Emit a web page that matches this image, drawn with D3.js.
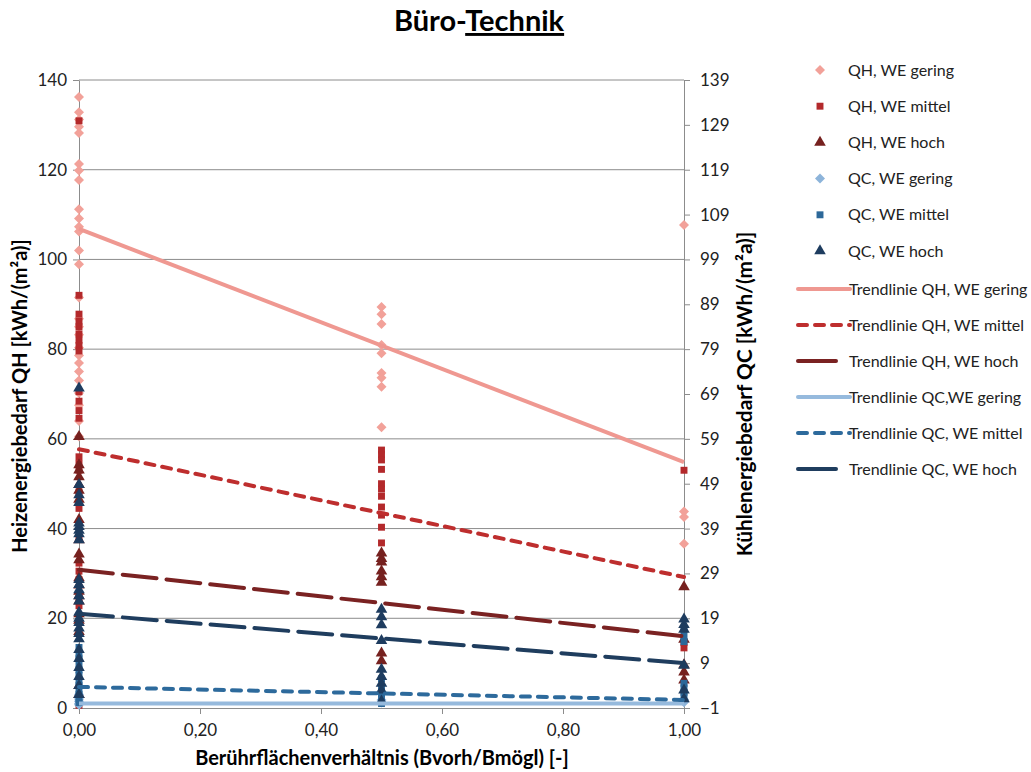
<!DOCTYPE html>
<html lang="de">
<head>
<meta charset="utf-8">
<script src="https://cdn.jsdelivr.net/npm/d3@7/dist/d3.min.js"></script>
<style>
  html, body { margin: 0; padding: 0; background: #fff; }
  svg { display: block; font-family: Lato, "Open Sans", "DejaVu Sans", sans-serif; }
</style>
</head>
<body>
<svg id="chart" width="1031" height="772"></svg>
<script>
// Ratios on the x axis (Bvorh/Bmögl)
const ratios = [0, 0.5, 1];

// Heating demand QH [kWh/(m²a)] – left axis, one list per ratio
const qhGering = [
  [136.2, 132.8, 131.2, 129.6, 128.2, 121.3, 119.8, 117.7, 111.2, 109.1, 107.3, 106.2, 102.0, 98.9, 91.5, 86.8, 85.0, 83.2, 80.3, 78.6, 76.9, 75.0, 73.0, 70.2, 67.5, 64.0, 60.5],
  [89.4, 87.8, 85.6, 80.9, 79.1, 74.7, 73.6, 71.6, 62.6],
  [107.7, 43.8, 42.6, 36.6]
];
const qhMittel = [
  [130.9, 92.0, 87.8, 86.2, 85.0, 83.4, 82.0, 80.8, 79.6, 70.5, 68.4, 66.3, 64.6, 56.0, 54.5, 53.0, 48.2, 44.5, 38.0, 32.3, 30.5, 28.6, 24.6, 22.8, 0.6],
  [57.5, 56.5, 55.3, 53.2, 50.0, 48.8, 47.2, 44.8, 43.0, 40.3, 36.8],
  [53.0, 14.6, 13.4]
];
const qhHoch = [
  [60.5, 54.2, 53.0, 51.5, 49.8, 48.5, 46.5, 42.0, 37.5, 34.3, 33.0, 29.0, 27.4, 26.0, 25.0, 23.8, 21.0, 19.5, 17.0, 5.0, 3.0],
  [34.5, 33.3, 32.5, 30.5, 29.2, 28.0, 12.2, 10.5],
  [27.0, 15.3, 9.6, 8.0, 6.2]
];

// Cooling demand QC [kWh/(m²a)] – right axis
const qcGering = [
  [1.0, 0.5, 0.0, -0.3, 1.5, 2.0],
  [0.2, 0.8],
  [0.3, 0.9]
];
const qcMittel = [
  [12.5, 11.0, 10.0, 8.8, 7.5, 6.3, 5.0, 4.0, 3.0, 2.0, 1.0, 0.2],
  [5.5, 3.5, 2.2, 1.0, 0.0],
  [16.5, 15.0, 13.8, 4.5, 3.5, 2.5, 1.5]
];
const qcHoch = [
  [70.3, 48.8, 46.5, 44.8, 40.2, 39.4, 38.6, 37.8, 36.5, 27.6, 26.5, 25.3, 24.0, 22.8, 20.3, 19.0, 18.0, 16.8, 15.6, 14.4, 12.0, 10.0, 8.0, 6.0, 4.0, 2.0],
  [21.0, 19.3, 17.5, 14.0, 7.6, 6.0, 4.5, 3.0, 0.5],
  [18.8, 17.6, 16.5, 8.5, 3.0, 1.0]
];

// Linear trend lines: value at ratio 0 and at ratio 1
const trendQhGering = [106.8, 54.8];
const trendQhMittel = [57.7, 29.2];
const trendQhHoch   = [30.8, 16.0];
const trendQcGering = [0.0, 0.0];
const trendQcMittel = [3.7, 0.8];
const trendQcHoch   = [20.0, 9.0];

// Tick labels
const xTicks = [0, 0.2, 0.4, 0.6, 0.8, 1.0];
const yLeftTicks = [0, 20, 40, 60, 80, 100, 120, 140];
const yRightTicks = [-1, 9, 19, 29, 39, 49, 59, 69, 79, 89, 99, 109, 119, 129, 139];

(function draw() {
  const svg = d3.select("#chart");
  const pl = 79, pr = 684, pt = 80, pb = 708;

  const x = d3.scaleLinear().domain([0, 1]).range([pl, pr]);
  const yL = d3.scaleLinear().domain([0, 140]).range([pb, pt]);
  const yR = d3.scaleLinear().domain([-1, 139]).range([pb, pt]);

  const fmt = d3.format(".2f");
  const deFmt = v => fmt(v).replace(".", ",");

  // Title
  const title = svg.append("text")
    .attr("x", 479).attr("y", 31)
    .attr("text-anchor", "middle")
    .attr("font-size", 29).attr("font-weight", "bold").attr("fill", "#000");
  title.append("tspan").text("Büro-");
  title.append("tspan").attr("text-decoration", "underline").text("Technik");

  // Horizontal grid lines
  svg.append("g")
    .selectAll("line").data(yLeftTicks.filter(d => d > 0)).join("line")
    .attr("x1", pl).attr("x2", pr)
    .attr("y1", d => yL(d)).attr("y2", d => yL(d))
    .attr("stroke", "#8c8c8c").attr("stroke-width", 1);

  // Axes
  const axisStyle = g => {
    g.select(".domain").attr("stroke", "#8c8c8c");
    g.selectAll(".tick line").attr("stroke", "#8c8c8c");
    g.selectAll(".tick text").attr("fill", "#222").attr("font-size", 17)
      .attr("font-family", "Lato, 'Open Sans', sans-serif");
  };

  svg.append("g").attr("transform", `translate(${pl},0)`)
    .call(d3.axisLeft(yL).tickValues(yLeftTicks).tickSize(6).tickSizeOuter(0).tickPadding(6))
    .call(axisStyle);

  svg.append("g").attr("transform", `translate(${pr},0)`)
    .call(d3.axisRight(yR).tickValues(yRightTicks).tickSize(6).tickSizeOuter(0).tickPadding(10))
    .call(axisStyle);

  svg.append("g").attr("transform", `translate(0,${pb})`)
    .call(d3.axisBottom(x).tickValues(xTicks).tickFormat(deFmt).tickSize(6).tickSizeOuter(0).tickPadding(10))
    .call(axisStyle);

  // Axis titles
  svg.append("text")
    .attr("transform", `translate(27,${(pt + pb) / 2 + 2}) rotate(-90)`)
    .attr("text-anchor", "middle").attr("font-size", 20).attr("font-weight", "bold")
    .text("Heizenergiebedarf  QH [kWh/(m²a)]");

  svg.append("text")
    .attr("transform", `translate(752,${(pt + pb) / 2}) rotate(-90)`)
    .attr("text-anchor", "middle").attr("font-size", 20.8).attr("font-weight", "bold")
    .text("Kühlenergiebedarf QC [kWh/(m²a)]");

  svg.append("text")
    .attr("x", 382).attr("y", 765)
    .attr("text-anchor", "middle").attr("font-size", 20).attr("font-weight", "bold")
    .text("Berührflächenverhältnis (Bvorh/Bmögl) [-]");

  // Marker shapes
  const diamond = d3.symbol(d3.symbolSquare, 50);
  const square = d3.symbol(d3.symbolSquare, 48);
  const triangle = d3.symbol(d3.symbolTriangle, 58);

  const pointSeries = [
    { name: "QH, WE gering", data: qhGering, y: yL, shape: diamond, rot: 45, color: "#F2A199" },
    { name: "QH, WE mittel", data: qhMittel, y: yL, shape: square, rot: 0, color: "#B3292B" },
    { name: "QH, WE hoch",   data: qhHoch,   y: yL, shape: triangle, rot: 0, color: "#76211F" },
    { name: "QC, WE gering", data: qcGering, y: yR, shape: diamond, rot: 45, color: "#8DB4DA" },
    { name: "QC, WE mittel", data: qcMittel, y: yR, shape: square, rot: 0, color: "#2C6899" },
    { name: "QC, WE hoch",   data: qcHoch,   y: yR, shape: triangle, rot: 0, color: "#1E3C5F" }
  ];

  const trendSeries = [
    { name: "Trendlinie QH, WE gering", data: trendQhGering, y: yL, color: "#EF9891", dash: null, legendLen: 52 },
    { name: "Trendlinie QH, WE mittel", data: trendQhMittel, y: yL, color: "#BE2E2E", dash: "9,8", legendLen: 52 },
    { name: "Trendlinie QH, WE hoch",   data: trendQhHoch,   y: yL, color: "#7A2222", dash: "34,10", legendLen: 38 },
    { name: "Trendlinie QC,WE gering",  data: trendQcGering, y: yR, color: "#96BADD", dash: null, legendLen: 52 },
    { name: "Trendlinie QC, WE mittel", data: trendQcMittel, y: yR, color: "#2D6A9C", dash: "9,8", legendLen: 52 },
    { name: "Trendlinie QC, WE hoch",   data: trendQcHoch,   y: yR, color: "#1F3D5E", dash: "34,10", legendLen: 38 }
  ];

  // Scatter points
  const pts = svg.append("g");
  pointSeries.forEach(s => {
    const flat = s.data.flatMap((vals, i) => vals.map(v => ({ r: ratios[i], v })));
    pts.append("g").selectAll("path").data(flat).join("path")
      .attr("d", s.shape)
      .attr("transform", d => `translate(${x(d.r)},${s.y(d.v)}) rotate(${s.rot})`)
      .attr("fill", s.color);
  });

  // Trend lines
  const trendG = svg.append("g");
  trendSeries.forEach(s => {
    const line = d3.line().x(d => x(d[0])).y(d => s.y(d[1]));
    trendG.append("path")
      .datum([[0, s.data[0]], [1, s.data[1]]])
      .attr("d", line)
      .attr("fill", "none")
      .attr("stroke", s.color)
      .attr("stroke-width", 4)
      .attr("stroke-linecap", s.dash ? "round" : "butt")
      .attr("stroke-dasharray", s.dash);
  });

  // Legend
  const legend = svg.append("g").attr("font-size", 16).attr("fill", "#222");
  pointSeries.forEach((s, i) => {
    const cy = 70 + i * 36.2;
    legend.append("path").attr("d", s.shape)
      .attr("transform", `translate(820,${cy}) rotate(${s.rot})`)
      .attr("fill", s.color);
    legend.append("text").attr("x", 848).attr("y", cy + 5.5).text(s.name);
  });
  trendSeries.forEach((s, i) => {
    const cy = 289 + i * 36;
    legend.append("line")
      .attr("x1", 798).attr("x2", 798 + s.legendLen)
      .attr("y1", cy).attr("y2", cy)
      .attr("stroke", s.color).attr("stroke-width", 4)
      .attr("stroke-linecap", "round")
      .attr("stroke-dasharray", s.dash === "9,8" ? "9,8" : null);
    legend.append("text").attr("x", 849).attr("y", cy + 5.5).text(s.name);
  });
})();
</script>
</body>
</html>
